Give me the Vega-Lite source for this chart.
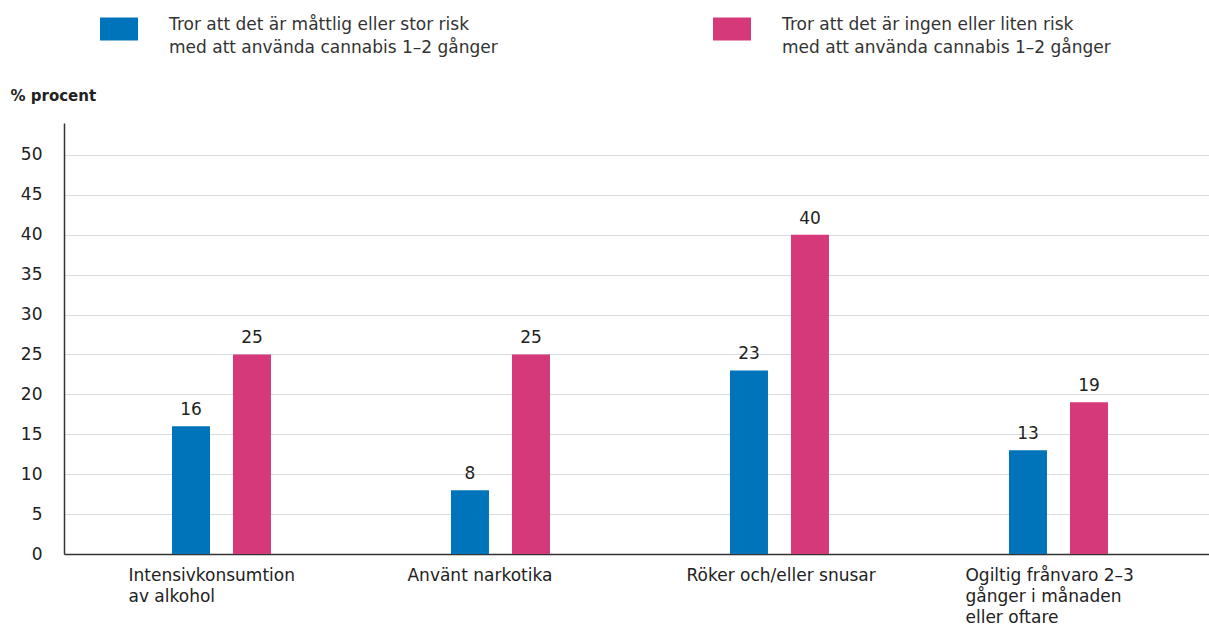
{
  "$schema": "https://vega.github.io/schema/vega-lite/v6.json",
  "width": 1145,
  "height": 431,
  "autosize": {"type": "none"},
  "padding": {"left": 64, "top": 123, "right": 0, "bottom": 74},
  "background": "white",
  "config": {"font": "DejaVu Sans", "view": {"stroke": null}},
  "data": {
    "values": [
      {"kategori": "Intensivkonsumtion\nav alkohol", "grupp": "Tror att det är måttlig eller stor risk\nmed att använda cannabis 1–2 gånger", "procent": 16},
      {"kategori": "Intensivkonsumtion\nav alkohol", "grupp": "Tror att det är ingen eller liten risk\nmed att använda cannabis 1–2 gånger", "procent": 25},
      {"kategori": "Använt narkotika", "grupp": "Tror att det är måttlig eller stor risk\nmed att använda cannabis 1–2 gånger", "procent": 8},
      {"kategori": "Använt narkotika", "grupp": "Tror att det är ingen eller liten risk\nmed att använda cannabis 1–2 gånger", "procent": 25},
      {"kategori": "Röker och/eller snusar", "grupp": "Tror att det är måttlig eller stor risk\nmed att använda cannabis 1–2 gånger", "procent": 23},
      {"kategori": "Röker och/eller snusar", "grupp": "Tror att det är ingen eller liten risk\nmed att använda cannabis 1–2 gånger", "procent": 40},
      {"kategori": "Ogiltig frånvaro 2–3\ngånger i månaden\neller oftare", "grupp": "Tror att det är måttlig eller stor risk\nmed att använda cannabis 1–2 gånger", "procent": 13},
      {"kategori": "Ogiltig frånvaro 2–3\ngånger i månaden\neller oftare", "grupp": "Tror att det är ingen eller liten risk\nmed att använda cannabis 1–2 gånger", "procent": 19}
    ]
  },
  "encoding": {
    "x": {
      "field": "kategori",
      "type": "nominal",
      "sort": null,
      "scale": {"paddingInner": 0.208, "paddingOuter": 0.156, "align": 0.54},
      "axis": {
        "title": null,
        "labelAngle": 0,
        "ticks": false,
        "grid": false,
        "labelExpr": "split(datum.label, '\\n')",
        "labelFontSize": 17,
        "labelColor": "#222222",
        "labelPadding": 13,
        "labelAlign": "left",
        "labelOffset": -93,
        "labelBaseline": "top",
        "labelLineHeight": 21,
        "labelLimit": 0,
        "domainColor": "#333333",
        "domainWidth": 1.5
      }
    },
    "xOffset": {
      "field": "grupp",
      "type": "nominal",
      "sort": ["Tror att det är måttlig eller stor risk\nmed att använda cannabis 1–2 gånger", "Tror att det är ingen eller liten risk\nmed att använda cannabis 1–2 gånger"],
      "scale": {"paddingInner": 0.377, "paddingOuter": 1}
    },
    "y": {
      "field": "procent",
      "type": "quantitative",
      "scale": {"domain": [0, 54], "nice": false},
      "axis": {
        "values": [0, 5, 10, 15, 20, 25, 30, 35, 40, 45, 50],
        "ticks": false,
        "labelPadding": 22,
        "labelFontSize": 17,
        "labelColor": "#222222",
        "domainColor": "#333333",
        "domainWidth": 1.5,
        "gridColor": "#d5dde3",
        "gridWidth": 1,
        "title": "% procent",
        "titleAngle": 0,
        "titleAlign": "left",
        "titleBaseline": "middle",
        "titleX": -54,
        "titleY": -28,
        "titleFontSize": 15,
        "titleFontWeight": "bold",
        "titleColor": "#222222"
      }
    }
  },
  "layer": [
    {
      "mark": {"type": "bar"},
      "encoding": {
        "color": {
          "field": "grupp",
          "type": "nominal",
          "scale": {
            "domain": ["Tror att det är måttlig eller stor risk\nmed att använda cannabis 1–2 gånger", "Tror att det är ingen eller liten risk\nmed att använda cannabis 1–2 gånger"],
            "range": ["#0074bb", "#d5397a"]
          },
          "legend": {
            "orient": "none",
            "legendX": 36,
            "legendY": -113,
            "direction": "horizontal",
            "columns": 2,
            "columnPadding": 215,
            "title": null,
            "symbolType": "M-1,-0.6H1V0.6H-1Z",
            "symbolSize": 1444,
            "symbolStrokeWidth": 0,
            "symbolOpacity": 1,
            "labelOffset": 31,
            "labelFontSize": 17,
            "labelColor": "#333333",
            "labelExpr": "split(datum.label, '\\n')",
            "labelLimit": 600,
            "labelBaseline": "middle",
            "encode": {"labels": {"update": {"lineHeight": {"value": 23}, "dy": {"value": -4}}}}
          }
        }
      }
    },
    {
      "mark": {"type": "text", "baseline": "bottom", "dy": -7, "fontSize": 17, "color": "#222222"},
      "encoding": {"text": {"field": "procent", "type": "quantitative"}}
    }
  ]
}
